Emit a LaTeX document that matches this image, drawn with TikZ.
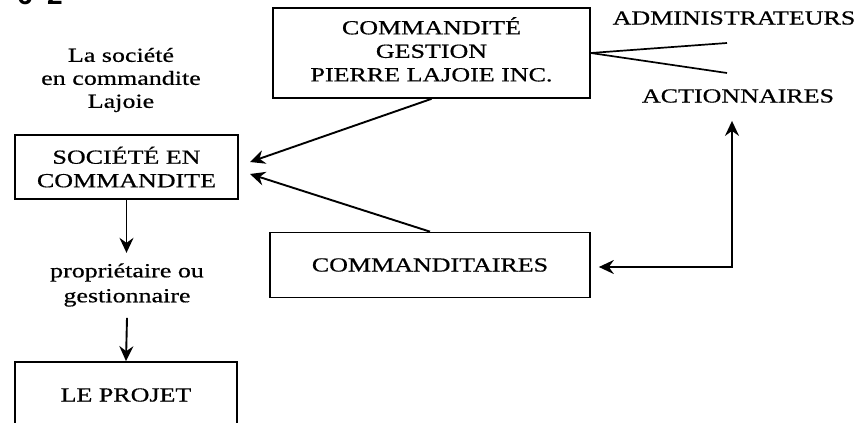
\documentclass[tikz,border=0pt]{standalone}
\usepackage{fontspec}
\setmainfont[FakeStretch=1.3,FakeBold=0.6]{Liberation Serif}
\newfontfamily\pagefont{Liberation Sans}
\usetikzlibrary{arrows.meta,calc}
\begin{document}
\begin{tikzpicture}[x=1pt,y=-1pt,
  box/.style={draw,line width=1.7pt,inner sep=0pt,align=center},
  lbl/.style={inner sep=1pt,align=center},
  arr/.style={line width=1.9pt,-{Stealth[length=15pt,width=14pt,inset=5pt]}},
  dblarr/.style={line width=1.9pt,{Stealth[length=15pt,width=14pt,inset=5pt]}-{Stealth[length=15pt,width=14pt,inset=5pt]}},
  thin/.style={line width=1.7pt},
  every node/.style={font=\fontsize{20}{23.5}\selectfont}]
\useasboundingbox (0,0) rectangle (863,423);
\begin{scope}
\clip (0,0) rectangle (863,423);
\node[anchor=base,font=\pagefont\bfseries\fontsize{28}{28}\selectfont] (p6) at (25,5) {6};
\node[anchor=base,font=\pagefont\bfseries\fontsize{28}{28}\selectfont] (p2) at (55,5) {2};
\node[box,minimum width=222pt,minimum height=66pt] (proj) at (126,395) {LE PROJET};
\end{scope}
% boxes
\node[box,minimum width=317pt,minimum height=90pt] (cg) at (431.5,53) {COMMANDITÉ\\GESTION\\PIERRE LAJOIE INC.\\[-16pt]};
\node[box,minimum width=223pt,minimum height=64pt] (sec) at (126.5,167) {SOCIÉTÉ EN\\COMMANDITE};
\node[box,minimum width=320pt,minimum height=65pt] (cmd) at (430,265) {COMMANDITAIRES};
% text
\node[lbl,font=\fontsize{20}{23}\selectfont] (lasoc) at (121,80) {La société\\en commandite\\Lajoie};
\node[lbl,font=\fontsize{20}{25}\selectfont] (prop) at (127,285) {propriétaire ou\\gestionnaire};
\node[lbl] (admin) at (734,18) {ADMINISTRATEURS};
\node[lbl] (action) at (738,96) {ACTIONNAIRES};
% connectors
\coordinate (a1) at (727,43);
\coordinate (a2) at (727,73);
\draw[thin] (cg.east) -- (a1);
\draw[thin] (cg.east) -- (a2);
\coordinate (t1) at (250,162);
\coordinate (t2) at (250,174);
\draw[arr] (cg.south) -- (t1);
\draw[arr] (cmd.north) -- (t2);
\draw[arr] (sec.south) -- ++(0,53) coordinate (s1);
\draw[arr] (prop.south) ++(0,10) -- (proj.north);
\coordinate (corner) at (732,267);
\draw[dblarr,shorten <=8pt,shorten >=17pt]
  (cmd.east |- corner) -- (corner) -- (corner |- action.south);
\end{tikzpicture}
\end{document}
